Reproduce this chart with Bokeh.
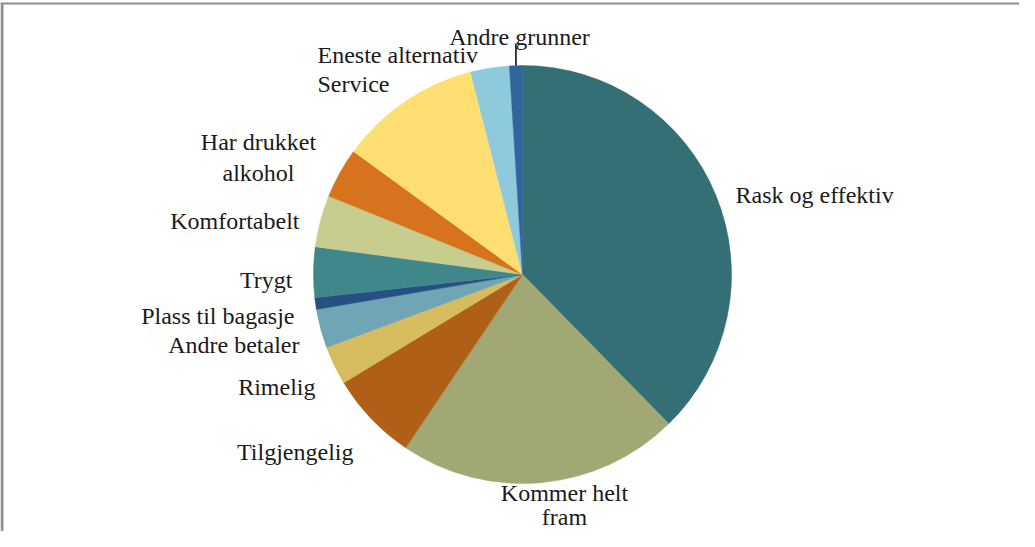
import numpy as np
from bokeh.plotting import figure
from bokeh.models import Range1d, ColumnDataSource
from bokeh.embed import file_html
from bokeh.resources import INLINE
from bokeh.core.properties import value

# ---- data (percent of answers) ----
categories = ["Rask og effektiv", "Kommer helt fram", "Tilgjengelig", "Rimelig",
              "Andre betaler", "Plass til bagasje", "Trygt", "Komfortabelt",
              "Har drukket alkohol", "Service", "Eneste alternativ", "Andre grunner"]
shares = [37.7, 21.8, 6.9, 3.0, 3.0, 0.9, 3.9, 4.0, 3.9, 11.0, 3.0, 1.0]
colors = ["#336f74", "#a2a874", "#b05f17", "#d6bc5e", "#70a5b5", "#265084",
          "#3f878a", "#c7cc8f", "#d6731c", "#ffdf72", "#8ecadb", "#31659c"]

# ---- layout ----
W, H = 1019, 531
OX, OY = 8, 539  # page offset -> data conversion


def sx(x):
    return x - OX


def sy(y):
    return OY - y


cx, cy, r = sx(530), sy(282), 209

p = figure(width=W, height=H, x_range=Range1d(0, W), y_range=Range1d(0, H),
           output_backend="svg", toolbar_location=None, min_border=0)
p.axis.visible = False
p.grid.visible = False
p.outline_line_color = None
p.background_fill_color = "white"
p.border_fill_color = "white"

frac = np.array(shares) / sum(shares)
ends = np.cumsum(frac)
starts = ends - frac
src = ColumnDataSource(dict(
    cat=categories,
    start=np.pi / 2 - starts * 2 * np.pi,
    end=np.pi / 2 - ends * 2 * np.pi,
    color=colors,
))
p.wedge(x=cx, y=cy, radius=r, start_angle="start", end_angle="end",
        direction="clock", fill_color="color", line_color="color",
        line_width=0.5, source=src)

# frame (left and top edges visible in the crop)
p.line([1.5, 1.5], [0, sy(11)], line_color="#8f8f8f", line_width=3)
p.line([0, W], [sy(11), sy(11)], line_color="#8f8f8f", line_width=2)

# leader line for the smallest slice at the top
mid = (starts[-1] + ends[-1]) / 2 * 2 * np.pi
lx = cx + r * np.sin(mid)
ly = cy + r * np.cos(mid)
p.line([lx, lx], [ly, sy(51)], line_color="black", line_width=1.5)

# label placements: (text, x, baseline y, align) in page pixels
labels = [
    ("Rask og effektiv", 743, 202, "left"),
    ("Kommer helt", 572, 500, "center"),
    ("fram", 572, 524, "center"),
    ("Tilgjengelig", 361, 459, "right"),
    ("Rimelig", 323, 394, "right"),
    ("Andre betaler", 307, 352, "right"),
    ("Plass til bagasje", 302, 323, "right"),
    ("Trygt", 300, 287, "right"),
    ("Komfortabelt", 307, 228, "right"),
    ("Har drukket", 266, 149, "center"),
    ("alkohol", 266, 180, "center"),
    ("Service", 325, 91, "left"),
    ("Eneste alternativ", 325, 62, "left"),
    ("Andre grunner", 527, 44, "center"),
]
for t, x, y, a in labels:
    p.text(x=[sx(x)], y=[sy(y)], text=[t], text_align=a,
           text_baseline="alphabetic", text_font=value("Liberation Serif"),
           text_font_size="24px", text_color="#1a1a1a")

open("out.html", "w").write(file_html(p, INLINE))
